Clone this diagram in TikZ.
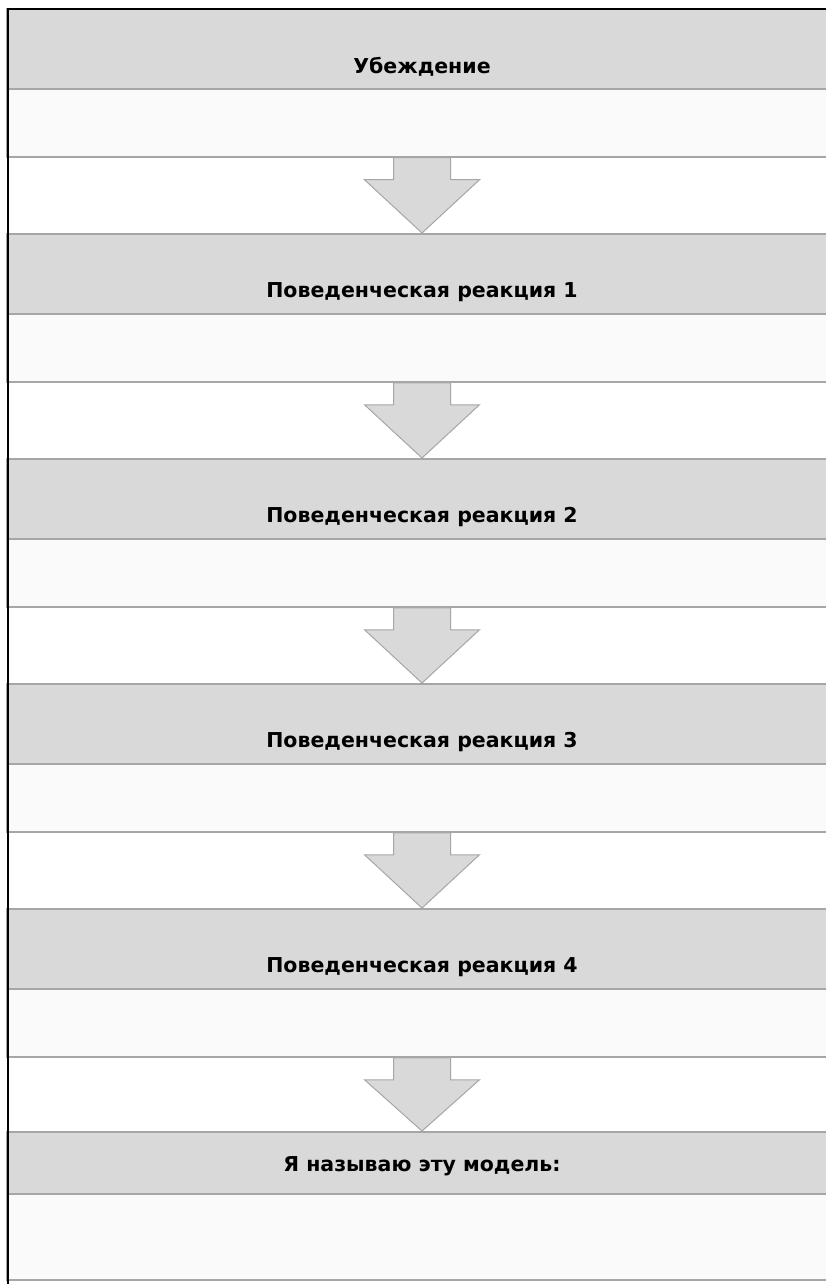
\documentclass[tikz,border=0pt]{standalone}
\usepackage{fontspec}
\setmainfont{DejaVu Sans}
\usetikzlibrary{calc}
\definecolor{bandgray}{HTML}{D9D9D9}
\definecolor{linegray}{HTML}{A6A6A6}
\definecolor{paler}{HTML}{FAFAFA}
\tikzset{
  headband/.style={rectangle, fill=bandgray, draw=linegray, line width=2pt, minimum width=880pt, minimum height=#1, inner sep=0pt},
  noteband/.style={rectangle, fill=paler, draw=linegray, line width=1.5pt, minimum width=880pt, minimum height=#1, inner sep=0pt},
  headtext/.style={font=\bfseries\fontsize{20.5}{24}\selectfont, inner sep=0pt},
  blockarrow/.style={fill=bandgray, draw=linegray, line width=1pt, line join=miter}
}
\begin{document}
\begin{tikzpicture}[x=1pt,y=-1pt]
  \useasboundingbox (0,0) rectangle (826,1284);
  \fill[white] (0,0) rectangle (826,1284);
  % five steps, one below the other
  \foreach \i/\txt in {0/Убеждение,1/Поведенческая реакция 1,2/Поведенческая реакция 2,3/Поведенческая реакция 3,4/Поведенческая реакция 4} {
    \node[headband=80pt] (head\i) at (447,{49+225*\i}) {};
    \node[noteband=68pt] (note\i) at (447,{123+225*\i}) {};
    \node[headtext] (label\i) at ([xshift=-25pt,yshift=23pt]head\i.south) {\txt};
  }
  % last step is lower
  \node[headband=62pt] (head5) at (447,1163) {};
  \node[noteband=86pt] (note5) at (447,1237) {};
  \node[headtext] (label5) at ([xshift=-25pt,yshift=29pt]head5.south) {Я называю эту модель:};
  % arrows between the steps
  \foreach \i [evaluate=\i as \j using int(\i+1)] in {0,...,4} {
    \draw[blockarrow] ([xshift=-53.5pt]note\i.south) -- ++(0,22) -- ++(-29,0) -- ([xshift=-25pt]head\j.north)
      -- ([xshift=32.5pt,yshift=-22pt]note\i.south) -- ++(-29,0) -- ([xshift=3.5pt]note\i.south) -- cycle;
  }
  % frame
  \draw[black, line width=1.5pt] (8,1284) -- (8,9) -- (880,9);
\end{tikzpicture}
\end{document}
